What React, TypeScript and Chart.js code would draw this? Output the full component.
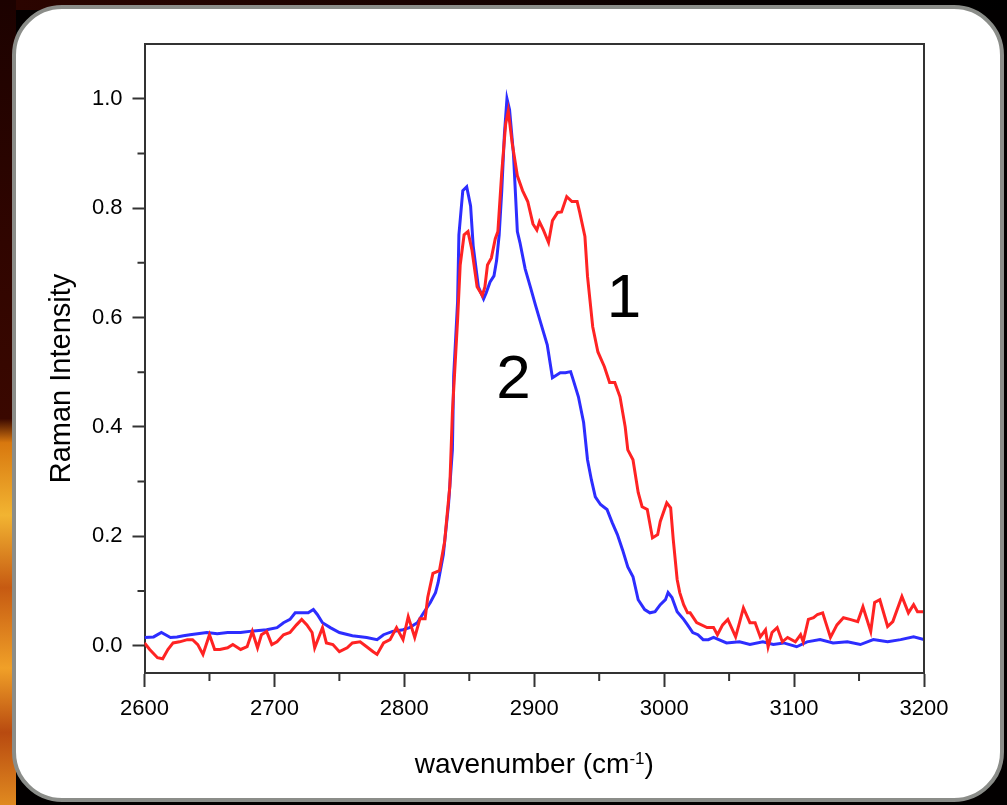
import React, { useEffect, useRef } from "react";
import { Chart, registerables } from "chart.js";

Chart.register(...registerables);

// ---------- data ----------
const xTickValues = [2600, 2700, 2800, 2900, 3000, 3100, 3200];
const xMinorTickValues = [2650, 2750, 2850, 2950, 3050, 3150];
const yTickValues = [0, 0.2, 0.4, 0.6, 0.8, 1.0];
const yMinorTickValues = [0.1, 0.3, 0.5, 0.7, 0.9];

const xTitleMain = "wavenumber (cm";
const xTitleSup = "-1";
const xTitleEnd = ")";
const yTitle = "Raman Intensity";

const curveLabels = ["1", "2"];
const curveLabelX = [2969, 2884];
const curveLabelY = [0.601, 0.453];

// curve 1 (red)
const wavenumber1 = [
  2600, 2604, 2610, 2614, 2618, 2622, 2627, 2633, 2637, 2641, 2645, 2650, 2654, 2658, 2664, 2668,
  2674, 2679, 2683, 2687, 2690, 2694, 2698, 2702, 2707, 2712, 2717, 2721, 2725, 2729, 2731, 2737,
  2740, 2745, 2750, 2756, 2760, 2766, 2771, 2776, 2779, 2784, 2789, 2794, 2799, 2803, 2808, 2812,
  2816, 2818, 2822, 2827, 2831, 2835, 2837, 2841, 2843, 2846, 2849, 2852, 2856, 2860, 2862, 2864,
  2867, 2870, 2872, 2875, 2878, 2880, 2883, 2887, 2891, 2895, 2899, 2902, 2904, 2907, 2911, 2914,
  2918, 2921, 2925, 2929, 2933, 2935, 2939, 2941, 2945, 2949, 2954, 2958, 2962, 2966, 2970, 2972,
  2976, 2980, 2983, 2987, 2991, 2995, 2997, 3002, 3005, 3007, 3010, 3012, 3015, 3018, 3020, 3025,
  3033, 3038, 3041, 3045, 3049, 3055, 3058, 3061, 3066, 3070, 3074, 3078, 3080, 3083, 3087, 3091,
  3095, 3101, 3105, 3107, 3111, 3115, 3118, 3122, 3128, 3133, 3138, 3143, 3149, 3153, 3159, 3162,
  3166, 3172, 3176, 3183, 3188, 3192, 3195, 3200,
];
const intensity1 = [
  0.005, -0.007, -0.022, -0.024, -0.007, 0.005, 0.007, 0.011, 0.011, 0.002, -0.016, 0.02, -0.007, -0.007, -0.004, 0.002,
  -0.007, -0.002, 0.026, -0.004, 0.02, 0.026, 0.002, 0.007, 0.02, 0.024, 0.038, 0.048, 0.038, 0.024, -0.004, 0.033,
  0.005, 0.002, -0.011, -0.004, 0.005, 0.007, -0.002, -0.011, -0.016, 0.005, 0.011, 0.033, 0.011, 0.053, 0.015, 0.049,
  0.049, 0.088, 0.132, 0.137, 0.19, 0.291, 0.426, 0.596, 0.696, 0.751, 0.757, 0.724, 0.656, 0.64, 0.656, 0.696,
  0.709, 0.744, 0.757, 0.866, 0.954, 0.978, 0.919, 0.859, 0.832, 0.812, 0.771, 0.76, 0.775, 0.76, 0.737, 0.777,
  0.792, 0.793, 0.821, 0.812, 0.812, 0.792, 0.748, 0.675, 0.583, 0.537, 0.51, 0.481, 0.481, 0.455, 0.4, 0.358,
  0.34, 0.28, 0.254, 0.249, 0.197, 0.203, 0.227, 0.261, 0.252, 0.194, 0.121, 0.097, 0.075, 0.06, 0.06, 0.042,
  0.033, 0.033, 0.02, 0.038, 0.048, 0.016, 0.042, 0.069, 0.042, 0.042, 0.016, 0.029, -0.002, 0.024, 0.033, 0.007,
  0.015, 0.007, 0.02, 0.007, 0.048, 0.051, 0.057, 0.06, 0.015, 0.038, 0.051, 0.048, 0.044, 0.071, 0.026, 0.079,
  0.084, 0.035, 0.044, 0.09, 0.06, 0.075, 0.062, 0.062,
];

// curve 2 (blue)
const wavenumber2 = [
  2600, 2607, 2613, 2620, 2625, 2630, 2635, 2648, 2656, 2664, 2674, 2684, 2694, 2702, 2707, 2712,
  2716, 2722, 2726, 2730, 2733, 2737, 2743, 2750, 2760, 2771, 2779, 2784, 2791, 2799, 2804, 2810,
  2814, 2820, 2824, 2826, 2830, 2834, 2837, 2838, 2841, 2842, 2845, 2848, 2851, 2853, 2857, 2861,
  2863, 2866, 2869, 2871, 2873, 2875, 2877, 2879, 2881, 2884, 2887, 2889, 2893, 2897, 2901, 2904,
  2910, 2914, 2920, 2924, 2928, 2930, 2934, 2938, 2941, 2944, 2947, 2951, 2956, 2960, 2964, 2968,
  2972, 2976, 2980, 2985, 2989, 2993, 2997, 3001, 3003, 3006, 3010, 3015, 3018, 3022, 3026, 3030,
  3034, 3038, 3048, 3058, 3066, 3076, 3084, 3092, 3102, 3110, 3120, 3130, 3141, 3151, 3161, 3172,
  3182, 3192, 3200,
];
const intensity2 = [
  0.015, 0.016, 0.024, 0.015, 0.016, 0.018, 0.02, 0.024, 0.022, 0.024, 0.024, 0.027, 0.029, 0.033, 0.042, 0.048,
  0.06, 0.06, 0.06, 0.066, 0.057, 0.042, 0.033, 0.024, 0.018, 0.015, 0.011, 0.02, 0.026, 0.029, 0.033, 0.042,
  0.057, 0.079, 0.097, 0.115, 0.166, 0.258, 0.358, 0.494, 0.629, 0.751, 0.832, 0.839, 0.804, 0.731, 0.656, 0.634,
  0.645, 0.665, 0.676, 0.704, 0.751, 0.832, 0.934, 1.0, 0.98, 0.899, 0.757, 0.737, 0.689, 0.656, 0.622, 0.598,
  0.55, 0.49, 0.499, 0.499, 0.501, 0.486, 0.455, 0.408, 0.34, 0.303, 0.272, 0.258, 0.249, 0.225, 0.203, 0.175,
  0.144, 0.126, 0.084, 0.066, 0.06, 0.062, 0.075, 0.084, 0.097, 0.088, 0.062, 0.048, 0.038, 0.024, 0.02, 0.011,
  0.011, 0.015, 0.005, 0.007, 0.002, 0.007, 0.002, 0.005, -0.002, 0.007, 0.011, 0.005, 0.007, 0.002, 0.011, 0.007,
  0.011, 0.016, 0.011,
];

// ---------- styles ----------
const FONT = "'Liberation Sans', Arial, Helvetica, sans-serif";
const RED = "#ff2323";
const BLUE = "#2d2dff";
const AXIS = "#333333";
const TEXT = "#000000";

const decorPlugin = {
  id: "decor",
  afterDraw(chart: any) {
    const { ctx, chartArea: a, scales } = chart;
    const xs = scales.x;
    const ys = scales.y;
    ctx.save();
    // frame top & right
    ctx.strokeStyle = AXIS;
    ctx.lineWidth = 2;
    ctx.beginPath();
    ctx.moveTo(a.left, a.top);
    ctx.lineTo(a.right, a.top);
    ctx.lineTo(a.right, a.bottom);
    ctx.stroke();
    // minor ticks
    ctx.beginPath();
    xMinorTickValues.forEach((v) => {
      const p = xs.getPixelForValue(v);
      ctx.moveTo(p, a.bottom);
      ctx.lineTo(p, a.bottom + 8);
    });
    yMinorTickValues.forEach((v) => {
      const p = ys.getPixelForValue(v);
      ctx.moveTo(a.left, p);
      ctx.lineTo(a.left - 7, p);
    });
    ctx.stroke();

    // curve labels
    ctx.fillStyle = "#000";
    ctx.font = `62px ${FONT}`;
    ctx.textAlign = "center";
    ctx.textBaseline = "alphabetic";
    curveLabels.forEach((t, i) => {
      ctx.fillText(t, xs.getPixelForValue(curveLabelX[i]), ys.getPixelForValue(curveLabelY[i]));
    });

    // x title with superscript
    ctx.fillStyle = TEXT;
    const cx = (a.left + a.right) / 2;
    const baseY = a.bottom + 100;
    ctx.font = `28px ${FONT}`;
    const w1 = ctx.measureText(xTitleMain).width;
    const w3 = ctx.measureText(xTitleEnd).width;
    ctx.font = `17px ${FONT}`;
    const w2 = ctx.measureText(xTitleSup).width;
    let sx = cx - (w1 + w2 + w3) / 2;
    ctx.textAlign = "left";
    ctx.font = `28px ${FONT}`;
    ctx.fillText(xTitleMain, sx, baseY);
    sx += w1;
    ctx.font = `17px ${FONT}`;
    ctx.fillText(xTitleSup, sx, baseY - 9);
    sx += w2;
    ctx.font = `28px ${FONT}`;
    ctx.fillText(xTitleEnd, sx, baseY);

    // y title
    ctx.translate(a.left - 75, (a.top + a.bottom) / 2 + 20);
    ctx.rotate(-Math.PI / 2);
    ctx.textAlign = "center";
    ctx.textBaseline = "alphabetic";
    ctx.font = `29px ${FONT}`;
    ctx.fillText(yTitle, 0, 0);
    ctx.restore();
  },
};

export default function App() {
  const ref = useRef<HTMLCanvasElement>(null);

  useEffect(() => {
    const canvas = ref.current;
    if (!canvas) return;
    const chart = new Chart(canvas, {
      type: "line",
      data: {
        datasets: [
          {
            label: "1",
            data: wavenumber1.map((x, i) => ({ x, y: intensity1[i] })),
            borderColor: RED,
            backgroundColor: RED,
            borderWidth: 3,
            pointRadius: 0,
            tension: 0,
            fill: false,
          },
          {
            label: "2",
            data: wavenumber2.map((x, i) => ({ x, y: intensity2[i] })),
            borderColor: BLUE,
            backgroundColor: BLUE,
            borderWidth: 3,
            pointRadius: 0,
            tension: 0,
            fill: false,
          },
        ],
      },
      options: {
        animation: false,
        responsive: false,
        events: [],
        layout: { padding: { left: 0, right: 83, top: 44, bottom: 0 } },
        plugins: { legend: { display: false }, tooltip: { enabled: false }, title: { display: false } },
        scales: {
          x: {
            type: "linear",
            min: 2600,
            max: 3200,
            afterFit: (s: any) => {
              s.height = 132;
            },
            afterBuildTicks: (s: any) => {
              s.ticks = xTickValues.map((v) => ({ value: v }));
            },
            ticks: {
              font: { family: FONT, size: 22 },
              color: TEXT,
              padding: 9,
              maxRotation: 0,
              autoSkip: false,
              callback: (v: any) => String(v),
            },
            grid: { drawOnChartArea: false, drawTicks: true, tickLength: 14, tickWidth: 2, tickColor: AXIS },
            border: { display: true, color: AXIS, width: 2 },
          },
          y: {
            type: "linear",
            min: -0.05,
            max: 1.1,
            afterFit: (s: any) => {
              s.width = 144.5;
            },
            afterBuildTicks: (s: any) => {
              s.ticks = yTickValues.map((v) => ({ value: v }));
            },
            ticks: {
              font: { family: FONT, size: 22 },
              color: TEXT,
              padding: 10,
              autoSkip: false,
              callback: (v: any) => Number(v).toFixed(1),
            },
            grid: { drawOnChartArea: false, drawTicks: true, tickLength: 12, tickWidth: 2, tickColor: AXIS },
            border: { display: true, color: AXIS, width: 2 },
          },
        },
      },
      plugins: [decorPlugin],
    });
    return () => chart.destroy();
  }, []);

  return (
    <div
      style={{
        position: "absolute",
        left: 0,
        top: 0,
        width: 1007,
        height: 805,
        overflow: "hidden",
        background: "#030000",
      }}
    >
      <div
        style={{
          position: "absolute",
          left: 0,
          top: 0,
          width: 1007,
          height: 10,
          background: "linear-gradient(to right, #2c0500, #1a0200 40%, #050000 75%, #000 100%)",
        }}
      />
      <div
        style={{
          position: "absolute",
          left: 0,
          top: 0,
          width: 16,
          height: 805,
          background:
            "linear-gradient(to bottom, #1c0200 0%, #300500 30%, #3a0800 52%, #d8780f 55%, #f2b432 64%, #c65a12 73%, #f0a028 83%, #b84a10 91%, #e08a20 100%)",
        }}
      />
      <div
        style={{
          position: "absolute",
          left: 12,
          top: 5,
          width: 992,
          height: 797,
          boxSizing: "border-box",
          border: "4px solid #8b8d89",
          borderRadius: 50,
          background: "#ffffff",
        }}
      />
      <canvas
        ref={ref}
        width={1007}
        height={805}
        style={{ position: "absolute", left: 0, top: 0, width: 1007, height: 805 }}
      />
    </div>
  );
}
